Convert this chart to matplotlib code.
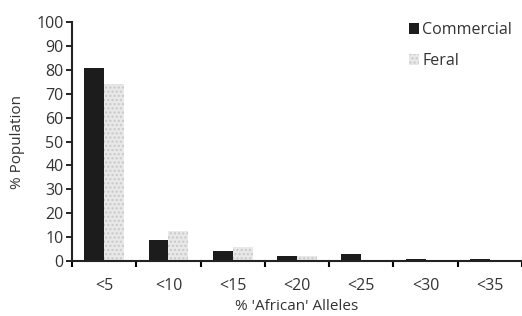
import matplotlib.pyplot as plt
import numpy as np

categories = ["<5", "<10", "<15", "<20", "<25", "<30", "<35"]
commercial = [81, 9, 4, 2, 3, 1, 1]
feral = [74, 12.5, 6, 2, 0.5, 0.3, 0.3]

plt.rcParams["font.family"] = ["Open Sans", "DejaVu Sans"]

fig = plt.figure(figsize=(5.22, 3.16), dpi=100)
ax = fig.add_axes([0.138, 0.174, 0.862, 0.756])

x = np.arange(len(categories))
w = 0.31
ax.bar(x - w / 2, commercial, w, color="#1c1c1c", label="Commercial")
ax.bar(x + w / 2, feral, w, color="#e8e8e8", edgecolor="#c8c8c8",
       hatch="....", linewidth=0, label="Feral")

ax.set_xlim(-0.5, 6.5)
ax.set_ylim(0, 100)
ax.set_yticks(range(0, 101, 10))
ax.set_xticks(x)
ax.set_xticklabels(categories)
ax.set_xticks(np.arange(-0.5, 7, 1), minor=True)
ax.tick_params(axis="x", which="major", length=0, pad=12)
ax.tick_params(axis="x", which="minor", length=4, width=1.5, direction="out")
ax.tick_params(axis="y", length=4, width=1.2, direction="out", pad=2)
ax.tick_params(labelsize=11.5, labelcolor="#333333")

for s in ["top", "right"]:
    ax.spines[s].set_visible(False)
for s in ["left", "bottom"]:
    ax.spines[s].set_linewidth(1.5)
    ax.spines[s].set_color("#222222")

ax.set_xlabel("% 'African' Alleles", fontsize=11, color="#333333", labelpad=4)
ax.set_ylabel("% Population", fontsize=11, color="#333333", labelpad=8)

ax.legend(loc="upper right", bbox_to_anchor=(1.01, 1.06), frameon=False,
          fontsize=11.5, handlelength=0.6, handleheight=0.7, handletextpad=0.2,
          labelspacing=0.95, labelcolor="#333333")

fig.savefig("out.png", dpi=100)
